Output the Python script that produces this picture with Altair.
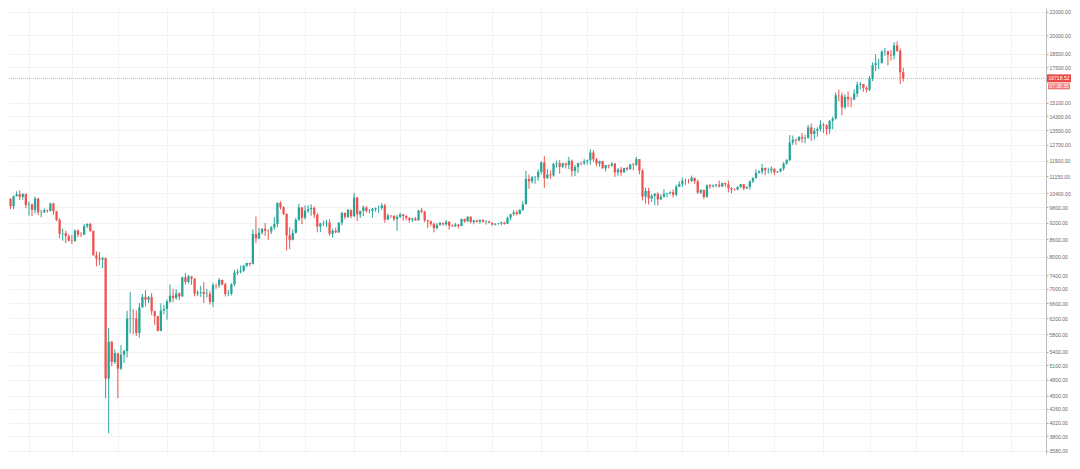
import altair as alt
import pandas as pd
import numpy as np

# ---- data (daily candles, BTC/USD, 10 Feb 2020 -> 27 Nov 2020) ----
start_date = "2020-02-10"
first_open = 10150

close_feb = [9850, 10270, 10350, 10240, 10360, 9900, 9920, 9700, 10170, 9600, 9610, 9690, 9660, 9960, 9650, 9310, 8790, 8810, 8710, 8540]
high_feb = [10190, 10300, 10480, 10520, 10390, 10380, 10050, 9970, 10250, 10200, 9710, 9760, 9710, 9990, 10000, 9660, 9380, 8970, 8900, 8770]
low_feb = [9730, 9730, 10260, 10100, 10120, 9770, 9480, 9460, 9560, 9500, 9410, 9580, 9590, 9640, 9500, 9260, 8620, 8540, 8460, 8520]

close_mar = [8530, 8910, 8760, 8750, 9070, 9150, 8900, 8040, 7940, 7900, 7950, 4830, 5620, 5170, 5360, 5030, 5330, 5410, 6190, 6200, 6190, 5830, 6480, 6770, 6690, 6760, 6380, 6250, 5880, 6400, 6440]
high_mar = [8750, 8950, 8950, 8850, 9150, 9180, 9200, 8900, 8170, 8150, 7980, 7970, 5950, 5640, 5450, 5370, 5540, 5440, 6390, 6910, 6430, 6400, 6600, 6850, 6960, 6790, 6880, 6400, 6260, 6590, 6550]
low_mar = [8420, 8500, 8670, 8670, 8740, 9000, 8850, 8030, 7680, 7720, 7620, 4450, 3850, 5080, 5130, 4450, 5000, 5150, 5270, 5820, 5800, 5760, 5720, 6480, 6510, 6600, 6280, 6030, 5870, 5870, 6300]

close_apr = [6640, 6800, 6740, 6870, 6780, 7340, 7200, 7370, 7300, 6860, 6890, 6910, 6850, 6860, 6630, 7110, 7100, 7260, 7130, 6850, 6860, 7130, 7480, 7510, 7540, 7700, 7790, 7760, 8780, 8620]
high_apr = [6700, 7130, 7000, 6990, 6900, 7360, 7480, 7420, 7360, 7310, 6960, 7080, 7200, 6990, 6940, 7180, 7150, 7320, 7280, 7180, 6960, 7160, 7570, 7600, 7710, 7720, 7800, 7800, 8950, 9440]
low_apr = [6160, 6600, 6620, 6690, 6680, 6780, 7120, 7160, 7120, 6780, 6790, 6770, 6600, 6750, 6560, 6490, 7000, 7030, 7100, 6780, 6790, 6810, 7080, 7410, 7460, 7510, 7660, 7680, 7740, 8450]

close_may = [8830, 8970, 8900, 8880, 9030, 9150, 9990, 9810, 9540, 8730, 8570, 8820, 9310, 9800, 9390, 9670, 9730, 9780, 9510, 9060, 9170, 9180, 9210, 8790, 8900, 8840, 9200, 9580, 9420, 9700, 9450]
high_may = [9000, 9000, 9190, 8950, 9080, 9420, 10000, 10050, 9850, 9570, 9030, 8950, 9390, 9950, 9820, 9880, 9890, 9930, 9840, 9570, 9200, 9280, 9310, 9330, 8980, 9020, 9220, 9620, 9600, 9740, 9710]
low_may = [8600, 8760, 8710, 8570, 8780, 8940, 9030, 9720, 9500, 8200, 8250, 8550, 8800, 9260, 9150, 9320, 9580, 9470, 9380, 8840, 8850, 9080, 9030, 8720, 8650, 8810, 8820, 9100, 9330, 9380, 9370]

close_jun = [10210, 9520, 9660, 9800, 9660, 9670, 9740, 9780, 9780, 9880, 9320, 9480, 9470, 9340, 9430, 9520, 9460, 9390, 9310, 9360, 9290, 9680, 9620, 9290, 9250, 9160, 9000, 9120, 9190, 9140]
high_jun = [10400, 10230, 9670, 9880, 9850, 9740, 9780, 9800, 9880, 9980, 9950, 9560, 9500, 9480, 9500, 9580, 9540, 9490, 9400, 9390, 9420, 9700, 9780, 9670, 9320, 9290, 9200, 9190, 9230, 9200]
low_jun = [9420, 9270, 9390, 9460, 9590, 9570, 9400, 9630, 9580, 9700, 9200, 9300, 9380, 9260, 8900, 9380, 9280, 9300, 9200, 9220, 9280, 9280, 9570, 9220, 9000, 9070, 8840, 8950, 9080, 9090]

close_jul = [9230, 9090, 9060, 9130, 9080, 9340, 9250, 9430, 9230, 9290, 9240, 9300, 9240, 9250, 9200, 9130, 9150, 9170, 9210, 9160, 9390, 9530, 9600, 9540, 9700, 9930, 11030, 10920, 11100, 11110, 11350]
high_jul = [9300, 9270, 9130, 9190, 9150, 9360, 9360, 9450, 9450, 9310, 9300, 9340, 9340, 9290, 9270, 9210, 9190, 9190, 9240, 9230, 9430, 9540, 9690, 9680, 9730, 10060, 11400, 11230, 11160, 11160, 11460]
low_jul = [9080, 8940, 9050, 9050, 8990, 9060, 9200, 9240, 9170, 9140, 9200, 9160, 9200, 9130, 9180, 9090, 9090, 9130, 9100, 9130, 9150, 9290, 9470, 9480, 9520, 9650, 9930, 10580, 10830, 10820, 10950]

close_aug = [11800, 11070, 11230, 11190, 11740, 11770, 11600, 11760, 11680, 11880, 11400, 11580, 11780, 11770, 11860, 11910, 12300, 11960, 11750, 11870, 11520, 11680, 11650, 11750, 11330, 11470, 11330, 11540, 11480, 11710, 11680]
high_aug = [11870, 12120, 11480, 11420, 11780, 11900, 11920, 11800, 11800, 12080, 11950, 11680, 11800, 11840, 11970, 11950, 12470, 12420, 12030, 11890, 11880, 11690, 11710, 11810, 11780, 11530, 11600, 11550, 11600, 11720, 11790]
low_aug = [11230, 10630, 11020, 11030, 11130, 11560, 11270, 11530, 11520, 11480, 11140, 11160, 11310, 11660, 11680, 11700, 11700, 11820, 11620, 11590, 11520, 11370, 11520, 11600, 11120, 11170, 11170, 11320, 11400, 11470, 11430]

close_sep = [11970, 11410, 10250, 10500, 10170, 10280, 10370, 10130, 10240, 10370, 10400, 10440, 10330, 10680, 10790, 10950, 10940, 10930, 11080, 10920, 10420, 10530, 10240, 10740, 10690, 10730, 10770, 10700, 10840, 10780]
high_sep = [12080, 11970, 11480, 10640, 10630, 10360, 10400, 10440, 10350, 10580, 10410, 10480, 10560, 10770, 10920, 11090, 11050, 11030, 11180, 11080, 10990, 10570, 10560, 10770, 10790, 10780, 10800, 10950, 10860, 10860]
low_sep = [11640, 11240, 10090, 9960, 9920, 10030, 9890, 9880, 10120, 10210, 10220, 10330, 10210, 10270, 10660, 10670, 10750, 10820, 10900, 10790, 10370, 10360, 10140, 10200, 10590, 10640, 10650, 10640, 10660, 10670]

close_oct = [10620, 10570, 10550, 10670, 10790, 10600, 10670, 10920, 11060, 11300, 11370, 11540, 11430, 11430, 11500, 11330, 11370, 11510, 11750, 11920, 12820, 12970, 12930, 13120, 13030, 13070, 13650, 13280, 13460, 13560, 13800]
high_oct = [10950, 10670, 10600, 10690, 10800, 10800, 10690, 10960, 11110, 11480, 11430, 11730, 11560, 11550, 11620, 11530, 11400, 11520, 11820, 11970, 13220, 13190, 13030, 13160, 13330, 13240, 13790, 13860, 13620, 13660, 14050]
low_oct = [10430, 10390, 10510, 10520, 10630, 10530, 10590, 10550, 10840, 11060, 11290, 11250, 11200, 11260, 11280, 11210, 11310, 11340, 11410, 11690, 11880, 12690, 12710, 12880, 12800, 12780, 13030, 12910, 12990, 13130, 13420]

close_nov = [13760, 13550, 14020, 14150, 15590, 15580, 14830, 15480, 15330, 15310, 15700, 16290, 16330, 16070, 15960, 16720, 17660, 17800, 17820, 18680, 18710, 18420, 18370, 19160, 18740, 17150, 16718.52]
high_nov = [13900, 13830, 14070, 14260, 15780, 15960, 15770, 15660, 15840, 15480, 15970, 16480, 16470, 16330, 16180, 16880, 17860, 18480, 18120, 18790, 18960, 18700, 18780, 19420, 19490, 18920, 17460]
low_nov = [13340, 13230, 13300, 13540, 14100, 15210, 14360, 14720, 14860, 14820, 15280, 15470, 15980, 15820, 15780, 15870, 16530, 17220, 17360, 17770, 18350, 17630, 18000, 18070, 18630, 16330, 16500]

# right-hand price scale labels
y_ticks = [22000, 20000, 18500, 17500, 15100, 14300, 13500, 12700, 11900, 11150, 10400,
           9800, 9200, 8600, 8000, 7400, 7000, 6600, 6200, 5800, 5400, 5100, 4800,
           4500, 4260, 4020, 3800, 3580]

last_price_label = "16718.52"
countdown_label = "07:38:35"

UP = "#26a69a"
DOWN = "#ef5350"

# ---- build table ----
close = close_feb + close_mar + close_apr + close_may + close_jun + close_jul + close_aug + close_sep + close_oct + close_nov
high = high_feb + high_mar + high_apr + high_may + high_jun + high_jul + high_aug + high_sep + high_oct + high_nov
low = low_feb + low_mar + low_apr + low_may + low_jun + low_jul + low_aug + low_sep + low_oct + low_nov
opens = [first_open] + close[:-1]

dates = pd.date_range(start_date, periods=len(close), freq="D")
df = pd.DataFrame({"date": dates, "open": opens, "high": high, "low": low, "close": close})
df["day"] = (df["date"] - df["date"].iloc[0]).dt.days
df["high"] = df[["high", "open", "close"]].max(axis=1)
df["low"] = df[["low", "open", "close"]].min(axis=1)
df["dir"] = np.where(df["close"] >= df["open"], "up", "down")

# vertical grid: 1st and 16th of each month
d0 = pd.Timestamp(start_date)
grid_dates = []
for m in pd.date_range("2020-02-01", "2021-01-01", freq="MS"):
    grid_dates.append(m)
    grid_dates.append(m + pd.Timedelta(days=15))
grid_days = [int((g - d0).days) for g in grid_dates if 1 <= (g - d0).days <= 335]

PLOT_W = 1038
xscale = alt.Scale(domain=[0.81, 335.9], nice=False, zero=False)
yscale = alt.Scale(type="log", domain=[3534, 22367], nice=False)
cscale = alt.Scale(domain=["up", "down"], range=[UP, DOWN])

xaxis = alt.Axis(values=grid_days, labels=False, ticks=False, domain=False,
                 title=None, grid=True, gridColor="#f2f2f2", gridWidth=1)
yaxis = alt.Axis(orient="right", values=y_ticks, format=".2f", title=None,
                 labelFontSize=5.1, labelColor="#6a6a6a", labelFont="Liberation Sans",
                 labelPadding=1, tickSize=2, tickColor="#aaaaaa",
                 domainColor="#bdbdbd", grid=True, gridColor="#f2f2f2",
                 labelOverlap=False, labelFlush=False)

base = alt.Chart(df)

wicks = base.mark_rule(strokeWidth=1).encode(
    x=alt.X("day:Q", scale=xscale, axis=xaxis),
    y=alt.Y("low:Q", scale=yscale, axis=yaxis),
    y2="high:Q",
    color=alt.Color("dir:N", scale=cscale, legend=None),
)

bodies = base.mark_bar(width=2.3).encode(
    x=alt.X("day:Q", scale=xscale, axis=xaxis),
    y=alt.Y("open:Q", scale=yscale, axis=yaxis),
    y2="close:Q",
    color=alt.Color("dir:N", scale=cscale, legend=None),
)

last = pd.DataFrame({"p": [close[-1]], "label": [last_price_label], "cd": [countdown_label]})
lbase = alt.Chart(last)

price_line = lbase.mark_rule(strokeDash=[1, 1], color=DOWN, opacity=0.55, strokeWidth=1).encode(
    y=alt.Y("p:Q", scale=yscale, axis=yaxis)
)
box1 = lbase.mark_rect(color="#e94a47", yOffset=-4, y2Offset=4).encode(
    x=alt.value(PLOT_W + 1), x2=alt.value(PLOT_W + 25),
    y=alt.Y("p:Q", scale=yscale, axis=yaxis), y2="p:Q"
)
box2 = lbase.mark_rect(color="#f07a77", yOffset=5, y2Offset=11).encode(
    x=alt.value(PLOT_W + 2), x2=alt.value(PLOT_W + 24),
    y=alt.Y("p:Q", scale=yscale, axis=yaxis), y2="p:Q"
)
txt1 = lbase.mark_text(color="white", fontSize=5.1, font="Liberation Sans", align="center",
                       baseline="middle").encode(
    x=alt.value(PLOT_W + 13), y=alt.Y("p:Q", scale=yscale, axis=yaxis), text="label:N"
)
txt2 = lbase.mark_text(color="white", fontSize=5.1, font="Liberation Sans", align="center",
                       baseline="middle", dy=8).encode(
    x=alt.value(PLOT_W + 13), y=alt.Y("p:Q", scale=yscale, axis=yaxis), text="cd:N"
)

chart = alt.layer(wicks, bodies, price_line, box1, box2, txt1, txt2).properties(
    width=PLOT_W, height=446, background="white",
    autosize=alt.AutoSizeParams(type="none"),
    padding={"left": 0, "top": 0, "right": 1064 - PLOT_W, "bottom": 0},
).configure_view(stroke=None)

chart.save("out.html", embed_options={"renderer": "svg", "actions": False})
